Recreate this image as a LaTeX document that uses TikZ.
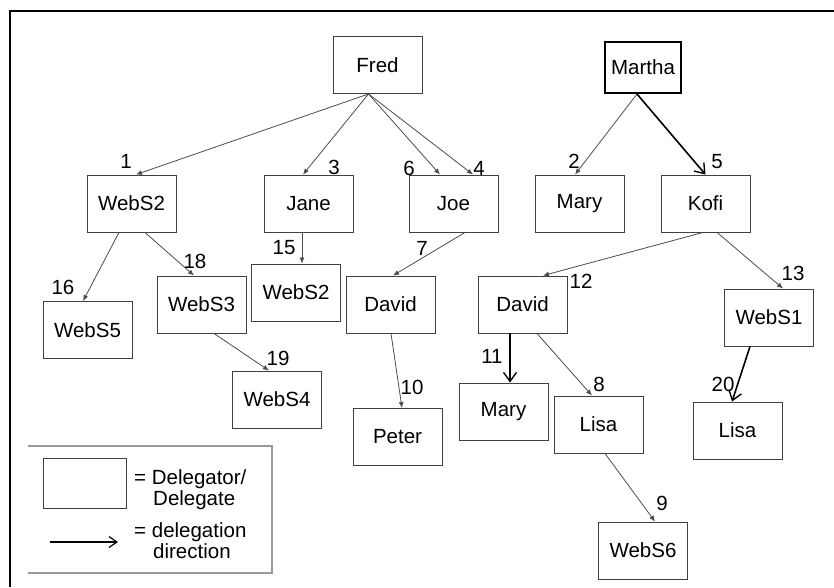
\documentclass[tikz,border=0pt]{standalone}
\usepackage{fontspec}
\setmainfont{Liberation Sans}
\usetikzlibrary{arrows.meta}

\tikzstyle{bx} = [minimum width = 89pt, minimum height = 57pt, draw = black!75, line width = 0.9pt, inner sep = 0pt]
\tikzstyle{mx} = [minimum width = 76pt, minimum height = 51pt, draw = black, line width = 2pt, inner sep = 0pt]
\tikzstyle{ln} = [draw = black!70, line width = 0.8pt, -{Latex[length = 6pt, width = 5pt]}]
\tikzstyle{dl} = [draw = black, line width = 1.6pt, -{Straight Barb[length = 9pt, width = 13pt, line width = 1.4pt]}]
\tikzstyle{nr} = [inner sep = 0pt]

\begin{document}
\begin{tikzpicture}[x = 1pt, y = -1pt, font = \fontsize{20.5}{21}\selectfont]
        \useasboundingbox (0,0) rectangle (834,587);
        \draw [line width = 2pt] (10,587) -- (10,11) -- (834,11);

        % top row
        \node [bx] (fred) at (377.5,65) {Fred};
        \node [mx] (martha) at (643,67.5) {Martha};

        \node [bx] (webs2a) at (131.5,203.5) {WebS2};
        \node [bx] (jane) at (308.5,203.5) {Jane};
        \node [bx] (joe) at (453.5,203.5) {Joe};
        \node [bx] (mary1) at (579.5,203.5) {Mary};
        \node [bx] (kofi) at (705.5,203.5) {Kofi};

        \node [bx] (webs5) at (87.5,330) {WebS5};
        \node [bx] (webs3) at (201.5,304.5) {WebS3};
        \node [bx] (webs2b) at (296,292.5) {WebS2};
        \node [bx] (david1) at (390.5,304.5) {David};
        \node [bx] (david2) at (522.5,304.5) {David};
        \node [bx] (webs1) at (769,317.5) {WebS1};

        \node [bx] (webs4) at (277,399.5) {WebS4};
        \node [bx] (peter) at (397.5,437) {Peter};
        \node [bx] (mary2) at (503.5,411.5) {Mary};
        \node [bx] (lisa1) at (598.5,424.5) {Lisa};
        \node [bx] (lisa2) at (737.5,430.5) {Lisa};
        \node [bx] (webs6) at (643,550.5) {WebS6};

        % delegations
        \draw [ln] ([xshift = -9pt]fred.south) -- ([xshift = 4.5pt]webs2a.north);
        \draw [ln] ([xshift = -9pt]fred.south) -- ([xshift = -5.5pt]jane.north);
        \draw [ln] ([xshift = -9pt]fred.south) -- ([xshift = -13.5pt]joe.north);
        \draw [ln] ([xshift = -9pt]fred.south) -- ([xshift = 19.5pt]joe.north);
        \draw [ln] ([xshift = -6pt]martha.south) -- ([xshift = -4.5pt]mary1.north);
        \draw [dl] ([xshift = -6pt]martha.south) -- (kofi.north);
        \draw [ln] ([xshift = -12.5pt]webs2a.south) -- ([xshift = -4.5pt]webs5.north);
        \draw [ln] ([xshift = 13.5pt]webs2a.south) -- ([xshift = -7.5pt]webs3.north);
        \draw [ln] ([xshift = -6.5pt]jane.south) -- ([xshift = 6pt]webs2b.north);
        \draw [ln] ([xshift = 11.5pt]joe.south) -- ([xshift = 2.5pt]david1.north);
        \draw [ln] ([xshift = -2.5pt]kofi.south) -- ([xshift = 20.5pt]david2.north);
        \draw [ln] ([xshift = 11.5pt]kofi.south) -- ([xshift = 14pt]webs1.north);
        \draw [ln] ([xshift = 12.5pt]webs3.south) -- ([xshift = -8pt]webs4.north);
        \draw [ln] ([xshift = 0.5pt]david1.south) -- ([xshift = 4.5pt]peter.north);
        \draw [dl] ([xshift = -12.5pt]david2.south) -- ([xshift = 6.5pt]mary2.north);
        \draw [ln] ([xshift = 14.5pt]david2.south) -- ([xshift = -6.5pt]lisa1.north);
        \draw [dl] ([xshift = -19pt]webs1.south) -- ([xshift = -5.5pt]lisa2.north);
        \draw [ln] ([xshift = 6.5pt]lisa1.south) -- ([xshift = 12pt]webs6.north);

        % order numbers
        \node [nr] (n1) at (126,161) {1};
        \node [nr] (n2) at (574,161) {2};
        \node [nr] (n3) at (334,167) {3};
        \node [nr] (n4) at (479,168) {4};
        \node [nr] (n5) at (717,162) {5};
        \node [nr] (n6) at (409,168) {6};
        \node [nr] (n7) at (422,248) {7};
        \node [nr] (n8) at (599,384) {8};
        \node [nr] (n9) at (662,503) {9};
        \node [nr] (n10) at (412,387) {10};
        \node [nr] (n11) at (492,356) {11};
        \node [nr] (n12) at (581,281) {12};
        \node [nr] (n13) at (793,273) {13};
        \node [nr] (n15) at (284,248) {15};
        \node [nr] (n16) at (63,287) {16};
        \node [nr] (n18) at (195,261) {18};
        \node [nr] (n19) at (278,358) {19};
        \node [nr] (n20) at (723,384) {20};

        % legend
        \draw [draw = black!40, line width = 2pt] (28,446) -- (272,446) -- (272,573) -- (28,573);
        \node [bx, minimum width = 83pt, minimum height = 50pt] (keybox) at (84.5,483) {};
        \coordinate (keya) at (50,542);
        \coordinate (keyb) at (118,542);
        \draw [dl, line width = 1.4pt, -{Straight Barb[length = 8pt, width = 11pt, line width = 1.2pt]}] (keya) -- (keyb);
        \node [nr, anchor = north west, align = left] (keytxt1) at (134,469) {= Delegator/\\\hspace*{19pt}Delegate};
        \node [nr, anchor = north west, align = left] (keytxt2) at (134,522) {= delegation\\\hspace*{19pt}direction};
    \end{tikzpicture}
\end{document}
